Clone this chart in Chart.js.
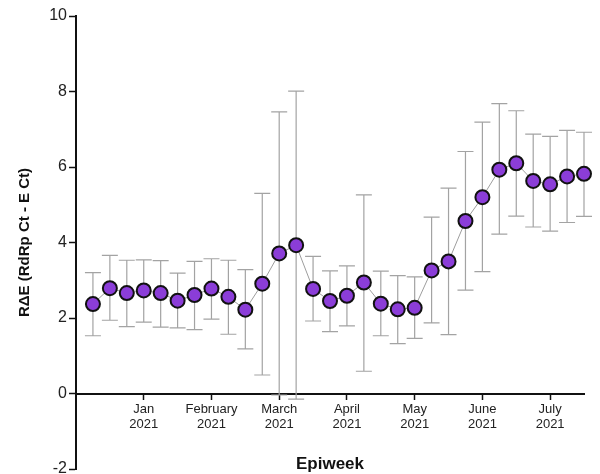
<!DOCTYPE html>
<html>
<head>
<meta charset="utf-8">
<script src="https://cdn.jsdelivr.net/npm/chart.js@4"></script>
<style>
  body { margin: 0; background: #fff; }
  canvas { display: block; }
</style>
</head>
<body>
<canvas id="raeChart" width="600" height="474"></canvas>
<script>
// epiweek index (1 = first week shown)
const weeks = [1, 2, 3, 4, 5, 6, 7, 8, 9, 10, 11, 12, 13, 14, 15, 16, 17, 18, 19, 20, 21, 22, 23, 24, 25, 26, 27, 28, 29, 30];
const meanDelta = [2.37, 2.79, 2.66, 2.73, 2.66, 2.46, 2.61, 2.78, 2.56, 2.22, 2.91, 3.71, 3.93, 2.77, 2.45, 2.59, 2.94, 2.38, 2.23, 2.27, 3.26, 3.50, 4.57, 5.20, 5.93, 6.10, 5.63, 5.54, 5.75, 5.82];
const upperDelta = [3.20, 3.66, 3.53, 3.54, 3.52, 3.19, 3.50, 3.57, 3.53, 3.28, 5.30, 7.46, 8.01, 3.63, 3.25, 3.38, 5.26, 3.24, 3.12, 3.09, 4.67, 5.44, 6.41, 7.19, 7.68, 7.49, 6.87, 6.81, 6.97, 6.92];
const lowerDelta = [1.53, 1.94, 1.77, 1.89, 1.76, 1.74, 1.69, 1.97, 1.57, 1.18, 0.49, -0.04, -0.15, 1.92, 1.64, 1.79, 0.59, 1.53, 1.32, 1.46, 1.87, 1.56, 2.74, 3.23, 4.22, 4.70, 4.41, 4.30, 4.53, 4.69];

const monthTicks = [4, 8, 12, 16, 20, 24, 28];
const monthLabels = ['Jan', 'February', 'March', 'April', 'May', 'June', 'July'];
const yearLabel = '2021';

const FONT = "'Liberation Sans', Arial, Helvetica, sans-serif";

// whiskers drawn under the points
const errorBars = {
  id: 'errorBars',
  beforeDatasetsDraw(chart) {
    const { ctx, scales: { x, y } } = chart;
    ctx.save();
    ctx.strokeStyle = '#a3a3a3';
    ctx.lineWidth = 1.2;
    weeks.forEach((w, i) => {
      const px = x.getPixelForValue(w);
      const top = y.getPixelForValue(upperDelta[i]);
      const bot = y.getPixelForValue(lowerDelta[i]);
      ctx.beginPath();
      ctx.moveTo(px, top);
      ctx.lineTo(px, bot);
      ctx.moveTo(px - 8, top);
      ctx.lineTo(px + 8, top);
      ctx.moveTo(px - 8, bot);
      ctx.lineTo(px + 8, bot);
      ctx.stroke();
    });
    ctx.restore();
  }
};

new Chart(document.getElementById('raeChart'), {
  type: 'line',
  data: {
    datasets: [{
      data: weeks.map((w, i) => ({ x: w, y: meanDelta[i] })),
      borderColor: '#9d9d9d',
      borderWidth: 1,
      pointRadius: 7,
      pointBackgroundColor: '#8b3dd8',
      pointBorderColor: '#111',
      pointBorderWidth: 2,
      clip: false
    }]
  },
  options: {
    responsive: false,
    animation: false,
    layout: { autoPadding: false, padding: { left: 0, top: 16, right: 16, bottom: 5 } },
    plugins: { legend: { display: false }, tooltip: { enabled: false } },
    scales: {
      x: {
        type: 'linear',
        position: { y: 0 },
        min: 0,
        max: 30,
        afterBuildTicks: (scale) => {
          scale.ticks = monthTicks.map(v => ({ value: v }));
        },
        ticks: {
          autoSkip: false,
          maxRotation: 0,
          padding: 3,
          color: '#222',
          font: { family: FONT, size: 13, lineHeight: 1.2 },
          callback: (value) => {
            const i = monthTicks.indexOf(value);
            return i >= 0 ? [monthLabels[i], yearLabel] : '';
          }
        },
        grid: { drawOnChartArea: false, drawTicks: true, tickLength: 5, tickColor: '#111', tickWidth: 1.5 },
        border: { display: true, color: '#111', width: 2 },
        title: {
          display: true,
          text: 'Epiweek',
          color: '#111',
          font: { family: FONT, size: 17, weight: 'bold' },
          padding: { top: 18, bottom: 0 }
        }
      },
      y: {
        min: -2,
        max: 10,
        ticks: {
          stepSize: 2,
          padding: 2,
          color: '#222',
          font: { family: FONT, size: 16 }
        },
        grid: { drawOnChartArea: false, drawTicks: true, tickLength: 7, tickColor: '#111', tickWidth: 1.5 },
        border: { display: true, color: '#111', width: 2 },
        title: {
          display: true,
          text: 'RΔE (RdRp Ct - E Ct)',
          color: '#111',
          font: { family: FONT, size: 15, weight: 'bold' },
          padding: { top: 16, bottom: 0 }
        },
        afterFit: (scale) => {
          // let the -2 label run to the canvas edge like the original
          scale.width = 76;
          scale.paddingTop = 0;
          scale.paddingBottom = 0;
        }
      }
    }
  },
  plugins: [errorBars]
});
</script>
</body>
</html>
